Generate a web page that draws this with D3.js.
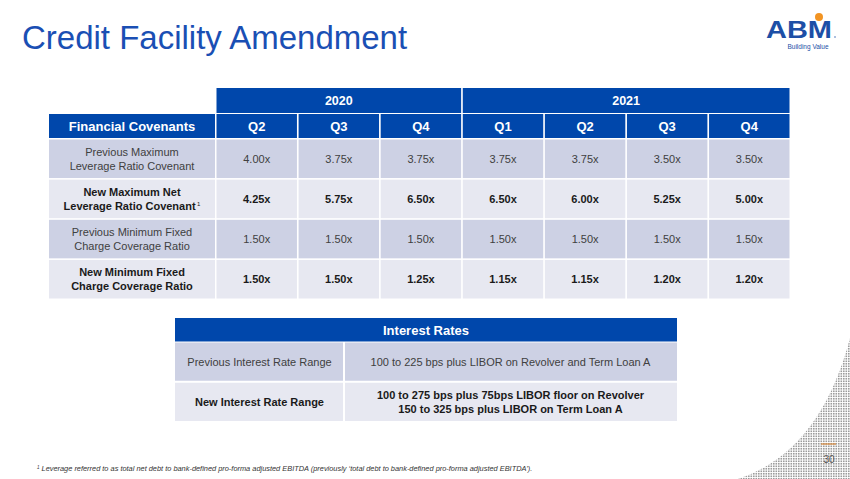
<!DOCTYPE html>
<html>
<head>
<meta charset="utf-8">
<script src="https://cdn.jsdelivr.net/npm/d3@7"></script>
<style>
  html, body { margin: 0; padding: 0; background: #fff; }
  svg { display: block; font-family: "Liberation Sans", Arial, sans-serif; }
</style>
</head>
<body>
<div id="chart"></div>
<script>
(function() {
    'use strict';

    // DATA
    const quarters = ["Q2", "Q3", "Q4", "Q1", "Q2", "Q3", "Q4"];
    const quarterYears = ["2020", "2020", "2020", "2021", "2021", "2021", "2021"];
    const years = ["2020", "2021"];

    const covenantLabels = [
        ["Previous Maximum", "Leverage Ratio Covenant"],
        ["New Maximum Net", "Leverage Ratio Covenant"],
        ["Previous Minimum Fixed", "Charge Coverage Ratio"],
        ["New Minimum Fixed", "Charge Coverage Ratio"]
    ];
    const prevMaxLeverage = [4.00, 3.75, 3.75, 3.75, 3.75, 3.50, 3.50];
    const newMaxNetLeverage = [4.25, 5.75, 6.50, 6.50, 6.00, 5.25, 5.00];
    const prevMinFixedCharge = [1.50, 1.50, 1.50, 1.50, 1.50, 1.50, 1.50];
    const newMinFixedCharge = [1.50, 1.50, 1.25, 1.15, 1.15, 1.20, 1.20];
    const covenantValues = [prevMaxLeverage, newMaxNetLeverage, prevMinFixedCharge, newMinFixedCharge];

    const rateLabels = ["Previous Interest Rate Range", "New Interest Rate Range"];
    const rateValues = [
        ["100 to 225 bps plus LIBOR on Revolver and Term Loan A"],
        ["100 to 275 bps plus 75bps LIBOR floor on Revolver", "150 to 325 bps plus LIBOR on Term Loan A"]
    ];

    const footnote = "Leverage referred to as total net debt to bank-defined pro-forma adjusted EBITDA (previously \u2018total debt to bank-defined pro-forma adjusted EBITDA\u2019).";

    // LAYOUT
    const width = 850;
    const height = 479;
    const blue = "#0047ab";
    const darkRow = "#cdd1e4";
    const lightRow = "#e7e8f1";

    const svg = d3.select("#chart")
        .append("svg")
        .attr("width", width)
        .attr("height", height);

    // corner dot texture, clipped to a curve
    svg.append("clipPath")
        .attr("id", "cornerClip")
        .append("path")
        .attr("d", "M738,479 Q820,452 850,338 L850,479 Z");

    const dotStep = 2.5;
    const dotPts = [];
    d3.range(738, 850, dotStep).forEach(px => {
        d3.range(338, 479, dotStep).forEach(py => dotPts.push([px, py]));
    });
    svg.append("g")
        .attr("clip-path", "url(#cornerClip)")
        .selectAll("rect")
        .data(dotPts)
        .join("rect")
        .attr("x", d => d[0])
        .attr("y", d => d[1])
        .attr("width", 1.6)
        .attr("height", 1.6)
        .attr("fill", "#9c9c9c");

    // TITLE
    svg.append("text")
        .attr("x", 22)
        .attr("y", 49)
        .attr("fill", "#1a4fb4")
        .attr("font-size", "33px")
        .text("Credit Facility Amendment");

    // LOGO
    svg.append("circle").attr("cx", 819).attr("cy", 17).attr("r", 4).attr("fill", "#f29423");
    svg.append("text")
        .attr("x", 766)
        .attr("y", 38)
        .attr("fill", "#1d4fa6")
        .attr("font-size", "23px")
        .attr("font-weight", "bold")
        .attr("textLength", 66)
        .attr("lengthAdjust", "spacingAndGlyphs")
        .text("ABM");
    svg.append("circle").attr("cx", 835).attr("cy", 37).attr("r", 0.7).attr("fill", "#1d4fa6");
    svg.append("text")
        .attr("x", 808)
        .attr("y", 49)
        .attr("text-anchor", "middle")
        .attr("fill", "#1d4fa6")
        .attr("font-size", "6.5px")
        .text("Building Value");

    // COVENANT TABLE SCALES
    const x = d3.scaleBand()
        .domain(d3.range(quarters.length))
        .range([216.5, 789.5])
        .paddingInner(0.02);

    const y = d3.scaleBand()
        .domain(d3.range(covenantLabels.length))
        .range([139.5, 298.5])
        .paddingInner(0.04);

    const labelX0 = 49;
    const labelX1 = x(0) - 1.5;

    // year header
    const yearCols = years.map(yr => {
        const idx = quarterYears.map((v, i) => v === yr ? i : -1).filter(i => i >= 0);
        return { year: yr, x0: x(idx[0]), x1: x(idx[idx.length - 1]) + x.bandwidth() };
    });

    const yearG = svg.append("g");
    yearG.selectAll("rect")
        .data(yearCols)
        .join("rect")
        .attr("x", d => d.x0)
        .attr("y", 88)
        .attr("width", d => d.x1 - d.x0)
        .attr("height", 25)
        .attr("fill", blue);
    yearG.selectAll("text")
        .data(yearCols)
        .join("text")
        .attr("x", d => (d.x0 + d.x1) / 2)
        .attr("y", 105)
        .attr("text-anchor", "middle")
        .attr("fill", "white")
        .attr("font-size", "12.5px")
        .attr("font-weight", "bold")
        .text(d => d.year);

    // quarter header
    const headG = svg.append("g");
    headG.append("rect")
        .attr("x", labelX0)
        .attr("y", 114)
        .attr("width", labelX1 - labelX0)
        .attr("height", 24)
        .attr("fill", blue);
    headG.append("text")
        .attr("x", (labelX0 + labelX1) / 2)
        .attr("y", 131)
        .attr("text-anchor", "middle")
        .attr("fill", "white")
        .attr("font-size", "13px")
        .attr("font-weight", "bold")
        .text("Financial Covenants");
    headG.selectAll(".qcell")
        .data(quarters)
        .join("rect")
        .attr("class", "qcell")
        .attr("x", (d, i) => x(i))
        .attr("y", 114)
        .attr("width", x.bandwidth())
        .attr("height", 24)
        .attr("fill", blue);
    headG.selectAll(".qtext")
        .data(quarters)
        .join("text")
        .attr("class", "qtext")
        .attr("x", (d, i) => x(i) + x.bandwidth() / 2)
        .attr("y", 131)
        .attr("text-anchor", "middle")
        .attr("fill", "white")
        .attr("font-size", "13px")
        .attr("font-weight", "bold")
        .text(d => d);

    // body rows
    const rows = svg.append("g")
        .selectAll("g")
        .data(covenantLabels.map((lab, i) => ({ lab, vals: covenantValues[i], i })))
        .join("g");

    const isNew = d => d.lab[0].startsWith("New");

    rows.append("rect")
        .attr("x", labelX0)
        .attr("y", d => y(d.i))
        .attr("width", labelX1 - labelX0)
        .attr("height", y.bandwidth())
        .attr("fill", d => d.i % 2 === 0 ? darkRow : lightRow);

    rows.each(function(d) {
        const g = d3.select(this);
        const cy = y(d.i) + y.bandwidth() / 2;
        const t = g.append("text")
            .attr("text-anchor", "middle")
            .attr("fill", isNew(d) ? "#1a1a1a" : "#404040")
            .attr("font-size", "11px")
            .attr("font-weight", isNew(d) ? "bold" : "normal");
        d.lab.forEach((line, k) => {
            t.append("tspan")
                .attr("x", (labelX0 + labelX1) / 2)
                .attr("y", cy - 3 + k * 14)
                .text(line);
        });
        if (d.i === 1) {
            t.select("tspan:last-child").append("tspan")
                .attr("font-size", "6px")
                .attr("font-weight", "normal")
                .attr("dy", -4)
                .attr("dx", 1.5)
                .text("1");
        }

        g.selectAll(".cell")
            .data(d.vals)
            .join("rect")
            .attr("class", "cell")
            .attr("x", (v, j) => x(j))
            .attr("y", y(d.i))
            .attr("width", x.bandwidth())
            .attr("height", y.bandwidth())
            .attr("fill", d.i % 2 === 0 ? darkRow : lightRow);

        g.selectAll(".val")
            .data(d.vals)
            .join("text")
            .attr("class", "val")
            .attr("x", (v, j) => x(j) + x.bandwidth() / 2)
            .attr("y", cy + 4)
            .attr("text-anchor", "middle")
            .attr("fill", isNew(d) ? "#1a1a1a" : "#404040")
            .attr("font-size", "11px")
            .attr("font-weight", isNew(d) ? "bold" : "normal")
            .text(v => d3.format(".2f")(v) + "x");
    });

    // INTEREST RATE TABLE
    const ix0 = 175, ix1 = 677, isplit = 344;
    const iy = d3.scaleBand()
        .domain(d3.range(rateLabels.length))
        .range([342.5, 421])
        .paddingInner(0.05);

    svg.append("rect")
        .attr("x", ix0).attr("y", 318)
        .attr("width", ix1 - ix0).attr("height", 23.5)
        .attr("fill", blue);
    svg.append("text")
        .attr("x", (ix0 + ix1) / 2).attr("y", 334.5)
        .attr("text-anchor", "middle")
        .attr("fill", "white")
        .attr("font-size", "13px")
        .attr("font-weight", "bold")
        .text("Interest Rates");

    const irows = svg.append("g")
        .selectAll("g")
        .data(rateLabels.map((lab, i) => ({ lab, vals: rateValues[i], i })))
        .join("g");

    irows.append("rect")
        .attr("x", ix0).attr("y", d => iy(d.i))
        .attr("width", isplit - ix0 - 1).attr("height", iy.bandwidth())
        .attr("fill", d => d.i % 2 === 0 ? darkRow : lightRow);
    irows.append("rect")
        .attr("x", isplit + 1).attr("y", d => iy(d.i))
        .attr("width", ix1 - isplit - 1).attr("height", iy.bandwidth())
        .attr("fill", d => d.i % 2 === 0 ? darkRow : lightRow);

    irows.append("text")
        .attr("x", (ix0 + isplit) / 2)
        .attr("y", d => iy(d.i) + iy.bandwidth() / 2 + 4)
        .attr("text-anchor", "middle")
        .attr("fill", d => d.i === 1 ? "#1a1a1a" : "#404040")
        .attr("font-size", "11px")
        .attr("font-weight", d => d.i === 1 ? "bold" : "normal")
        .text(d => d.lab);

    irows.each(function(d) {
        const cy = iy(d.i) + iy.bandwidth() / 2;
        const n = d.vals.length;
        const t = d3.select(this).append("text")
            .attr("text-anchor", "middle")
            .attr("fill", d.i === 1 ? "#1a1a1a" : "#404040")
            .attr("font-size", "11px")
            .attr("font-weight", d.i === 1 ? "bold" : "normal");
        d.vals.forEach((line, k) => {
            t.append("tspan")
                .attr("x", (isplit + ix1) / 2)
                .attr("y", cy + 4 + (k - (n - 1) / 2) * 14)
                .text(line);
        });
    });

    // FOOTNOTE
    const fn = svg.append("text")
        .attr("x", 37)
        .attr("y", 471)
        .attr("fill", "#333")
        .attr("font-size", "7.4px")
        .attr("font-style", "italic");
    fn.append("tspan").attr("font-size", "4.5px").attr("dy", -2.5).text("1");
    fn.append("tspan").attr("dy", 2.5).attr("dx", 2).text(footnote);

    // PAGE NUMBER
    svg.append("line")
        .attr("x1", 821).attr("x2", 836)
        .attr("y1", 444).attr("y2", 444)
        .attr("stroke", "#d8873a")
        .attr("stroke-width", 1.2);
    svg.append("text")
        .attr("x", 829).attr("y", 463)
        .attr("text-anchor", "middle")
        .attr("fill", "#555")
        .attr("font-size", "10px")
        .text("30");

})();
</script>
</body>
</html>
